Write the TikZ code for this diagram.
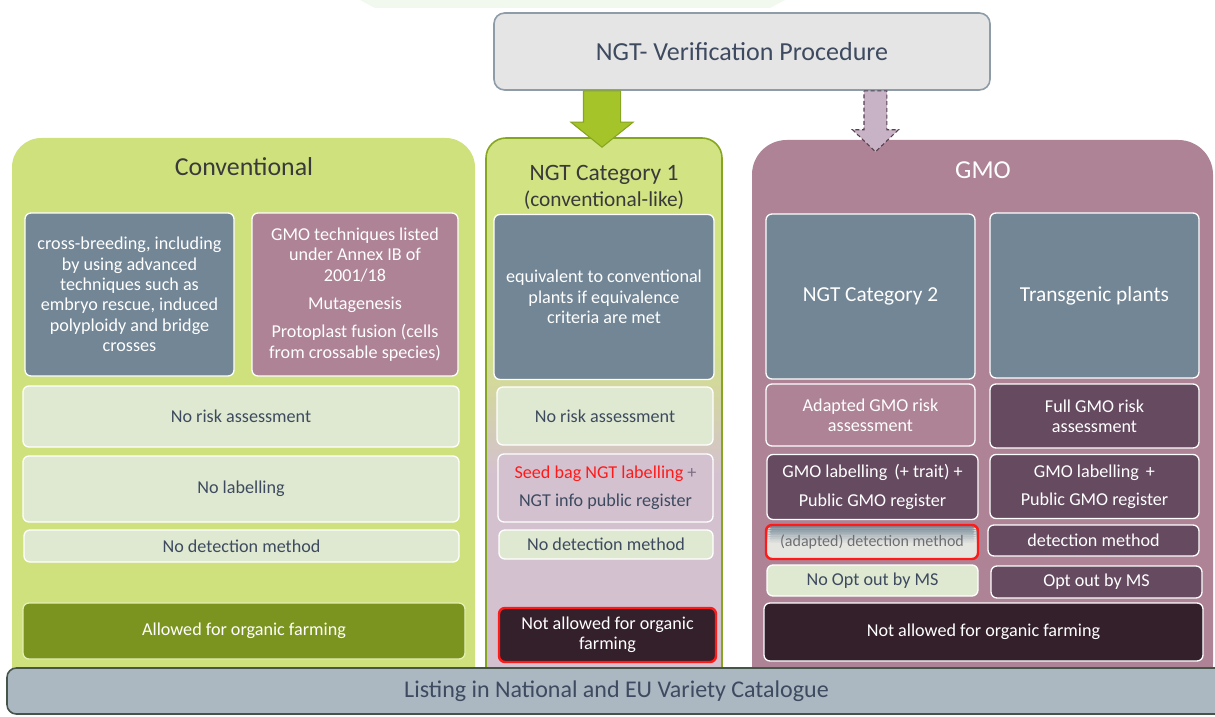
\documentclass[tikz,border=0pt]{standalone}
\usepackage{fontspec}
\setmainfont{Carlito}
\usetikzlibrary{calc}

% palette
\definecolor{panelgreen}{HTML}{CFE17D}
\definecolor{greenbg}{HTML}{D2E383}
\definecolor{lilacbg}{HTML}{D4C1D0}
\definecolor{mauve}{HTML}{AD8395}
\definecolor{slate}{HTML}{728696}
\definecolor{plum}{HTML}{654A60}
\definecolor{darkplum}{HTML}{33202B}
\definecolor{palegreen}{HTML}{DFE9D1}
\definecolor{olive}{HTML}{7B9420}
\definecolor{textdark}{HTML}{3D4A5F}
\definecolor{titlegray}{HTML}{3A3A3A}
\definecolor{barfill}{HTML}{ABB7C1}
\definecolor{bardark}{HTML}{46554A}
\definecolor{boxgray}{HTML}{E5E5E5}
\definecolor{boxedge}{HTML}{8E9CA8}
\definecolor{arrowgreen}{HTML}{A4C42A}
\definecolor{arrowedge}{HTML}{86A520}
\definecolor{arrowlilac}{HTML}{C8B2C5}
\definecolor{arrowdark}{HTML}{55404F}
\definecolor{palegray}{HTML}{E6E6E1}
\definecolor{alertred}{HTML}{FF1A1A}
\definecolor{plusgray}{HTML}{7D6E84}
\definecolor{faintgreen}{HTML}{F1F8EE}
\definecolor{lightolive}{HTML}{E3EFB4}
\definecolor{detgray}{HTML}{6E6E72}

% background of the NGT category 1 column: green on top, lilac below
\pgfdeclareverticalshading{catoneshade}{100bp}{color(0bp)=(lilacbg); color(45bp)=(lilacbg); color(57bp)=(greenbg); color(100bp)=(greenbg)}

\tikzset{
  wh/.style 2 args={minimum width=#1*0.75pt, minimum height=#2*0.75pt},
  cell/.style={rounded corners=4.5pt, draw=white, line width=1pt, inner sep=1pt,
    align=center, font=\fontsize{13.6}{15.3}\selectfont},
  lightcell/.style={cell, fill=palegreen, text=textdark},
  slatecell/.style={cell, fill=slate, text=white},
  mauvecell/.style={cell, fill=mauve, text=white},
  plumcell/.style={cell, fill=plum, text=white},
  darkcell/.style={cell, fill=darkplum, text=white},
  redline/.style={draw=alertred, line width=1.8pt},
  panel/.style={inner sep=0pt},
  ptitle/.style={align=center, inner sep=0pt},
  greenarrow/.style={fill=arrowgreen, draw=arrowedge, line width=0.8pt, line join=miter},
  lilacarrow/.style={fill=arrowlilac, draw=arrowdark, line width=0.8pt, dashed, dash pattern=on 3pt off 2pt},
  % slate band along the top edge that fades into the pale fill, in thin strips
  topfade/.style={path picture={
    \foreach \i in {0,...,9}{
      \pgfmathtruncatemacro{\share}{100-\i*10}
      \fill[slate!\share!palegray]
        ([yshift={-\i*1.3pt}]path picture bounding box.north west)
        rectangle ([yshift={-(\i+1)*1.3pt-0.2pt}]path picture bounding box.north east);
    }}},
}

\begin{document}
\begin{tikzpicture}[x=0.75pt, y=-0.75pt]
\useasboundingbox (0,0) rectangle (1215,717);

% faint band along the top edge
\fill[faintgreen] (360,0) -- (785,0) -- (770,8) -- (375,8) -- cycle;

% column panels
\node[panel, shade, shading=catoneshade, draw=arrowedge, line width=1.2pt, rounded corners=15pt, wh={236}{560}] (cat1) at (604,418) {};
\node[panel, fill=panelgreen, rounded corners=22pt, wh={463}{560}] (conv) at (243.5,418) {};
\node[panel, fill=mauve, rounded corners=26pt, wh={461}{558}] (gmo) at (982.5,419) {};

% heading box
\node[fill=boxgray, draw=boxedge, line width=1.2pt, rounded corners=8pt, wh={496}{77},
      text=textdark, font=\fontsize{19.5}{22}\selectfont] (title) at (742,51.5) {NGT- Verification Procedure};

% block arrows from the heading to the columns
\filldraw[greenarrow] let \p1=(title.south), \p2=(cat1.north) in
  (\x2-15.4pt,\y1) -- (\x2+12.4pt,\y1) -- (\x2+12.4pt,\y2+11.25pt) -- (\x2+21.8pt,\y2+11.25pt)
  -- (\x2-1.5pt,\y2-7.5pt) -- (\x2-24.8pt,\y2+11.25pt) -- (\x2-15.4pt,\y2+11.25pt) -- cycle;
\filldraw[lilacarrow] let \p1=([xshift=100.1pt]title.south), \p2=(gmo.north) in
  (\x1-8.6pt,\y1) -- (\x1+8.6pt,\y1) -- (\x1+8.6pt,\y2+7.5pt) -- (\x1+17.25pt,\y2+7.5pt)
  -- (\x1,\y2-9pt) -- (\x1-17.25pt,\y2+7.5pt) -- (\x1-8.6pt,\y2+7.5pt) -- cycle;

% column headings
\node[ptitle, text=titlegray, font=\fontsize{19.4}{22}\selectfont] (convtitle) at (244,167) {Conventional};
\node[ptitle, text=titlegray] (cat1title) at (604,187.5)
  {{\fontsize{17.6}{20}\selectfont NGT Category 1}\\[4pt]{\fontsize{16}{19}\selectfont (conventional-like)}};
\node[ptitle, text=white, font=\fontsize{19.4}{22}\selectfont] (gmotitle) at (983,170) {GMO};

% conventional column
\node[slatecell, wh={209}{163}] (crossing) at (129.5,294.5)
  {cross-breeding, including\\by using advanced\\techniques such as\\embryo rescue, induced\\polyploidy and bridge\\crosses};
\node[mauvecell, wh={206}{163}] (annex) at (355,294.5)
  {GMO techniques listed\\under Annex IB of\\2001/18\\[6pt]Mutagenesis\\[6pt]Protoplast fusion (cells\\from crossable species)};
\node[lightcell, wh={436}{61}] (convrisk) at (241,416.5) {No risk assessment};
\node[lightcell, wh={436}{66}] (convlabel) at (241,489) {No labelling};
\node[lightcell, wh={435}{32}] (convdetect) at (241.5,546) {No detection method};
\node[cell, fill=olive, draw=lightolive, text=white, wh={442}{56}] (convorganic) at (244,631) {Allowed for organic farming};

% NGT category 1 column
\node[slatecell, wh={220}{165}] (equiv) at (604,297)
  {equivalent to conventional\\plants if equivalence\\criteria are met};
\node[lightcell, wh={216}{58}] (catrisk) at (605,416) {No risk assessment};
\node[cell, fill=lilacbg, text=textdark, wh={215}{68}] (catlabel) at (605.5,488)
  {{\color{alertred}Seed bag NGT labelling} {\color{plusgray}+}\\[6pt]NGT info public register};
\node[lightcell, wh={214}{29}] (catdetect) at (606,544.5) {No detection method};
\node[darkcell, redline, wh={217}{54}] (catorganic) at (607.5,635) {Not allowed for organic\\farming};

% GMO column
\node[slatecell, font=\fontsize{16}{19}\selectfont, wh={209}{165}] (ngt2) at (870.5,296.5) {NGT Category 2};
\node[slatecell, font=\fontsize{16}{19}\selectfont, wh={209}{165}] (transgenic) at (1094.5,295.5) {Transgenic plants};
\node[mauvecell, wh={209}{62}] (adaptrisk) at (870.5,415) {Adapted GMO risk\\assessment};
\node[plumcell, wh={209}{64}] (fullrisk) at (1094.5,416) {Full GMO risk\\assessment};
\node[plumcell, wh={211}{65}] (ngt2label) at (872.5,487) {GMO labelling\, (+ trait) +\\[6pt]Public GMO register};
\node[plumcell, wh={209}{64}] (translabel) at (1094.5,486.5) {GMO labelling\, +\\[6pt]Public GMO register};
\node[cell, fill=palegray, topfade, redline, text=detgray,
      font=\fontsize{12}{14}\selectfont, wh={212}{34}] (adaptdetect) at (872,542) {(adapted) detection method};
\node[plumcell, wh={211}{31}] (detect) at (1093.5,540.5) {detection method};
\node[lightcell, wh={211}{31}] (nooptout) at (872.5,580.5) {No Opt out by MS};
\node[plumcell, wh={211}{32}] (optout) at (1096.5,582) {Opt out by MS};
\node[darkcell, wh={439}{58}] (gmoorganic) at (983.5,632) {Not allowed for organic farming};

% catalogue bar along the bottom
\node[fill=barfill, draw=bardark, line width=1.2pt, rounded corners=7pt, wh={1219}{46},
      text=textdark, font=\fontsize{18}{21}\selectfont] (listing) at (616.5,691) {Listing in National and EU Variety Catalogue};
\end{tikzpicture}
\end{document}
